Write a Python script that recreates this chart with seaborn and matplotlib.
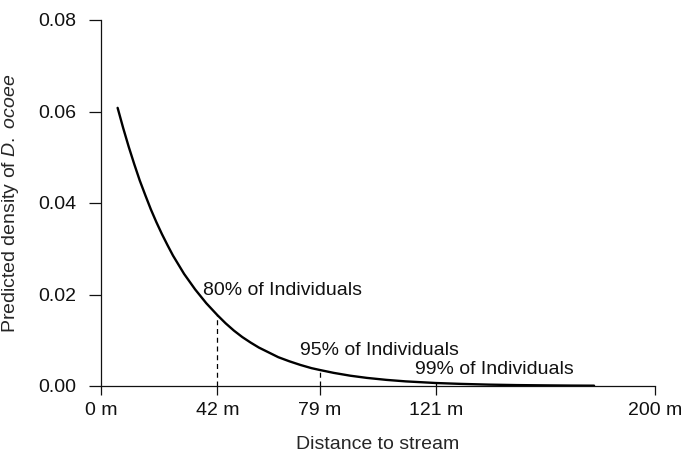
import matplotlib
matplotlib.use("Agg")
import matplotlib.pyplot as plt
import seaborn as sns
import pandas as pd

# Predicted salamander density along the distance-to-stream gradient
distance_m = [6, 8, 10, 12, 14, 16, 18, 20, 22, 24, 26, 28, 30, 32, 34, 36, 38, 40, 42,
              45, 48, 51, 54, 57, 60, 64, 68, 72, 76, 79,
              84, 90, 96, 103, 110, 121, 130, 140, 150, 160, 170, 178]
density = [0.0608, 0.0564, 0.0523, 0.0485, 0.0449, 0.0417, 0.0386, 0.0358, 0.0332, 0.0308,
           0.0285, 0.0265, 0.0245, 0.0228, 0.0211, 0.0196, 0.0181, 0.0168, 0.0155,
           0.0137, 0.0121, 0.0107, 0.0095, 0.0084, 0.0075, 0.0063, 0.0054, 0.0046, 0.0039, 0.0035,
           0.00287, 0.00225, 0.00177, 0.00134, 0.00101, 0.00065, 0.00046, 0.00030, 0.00020,
           0.00014, 0.00009, 0.00007]

# Distances enclosing a given share of individuals
cutoff_m = [42, 79, 121]
cutoff_density = [0.0155, 0.0035, 0.00065]
cutoff_labels = ["80% of Individuals", "95% of Individuals", "99% of Individuals"]
label_x = [37, 72, 113.5]
label_y = [0.0208, 0.0077, 0.0035]

x_ticks = [0, 42, 79, 121, 200]
x_tick_labels = ["0 m", "42 m", "79 m", "121 m", "200 m"]
y_ticks = [0.00, 0.02, 0.04, 0.06, 0.08]
y_tick_labels = ["0.00", "0.02", "0.04", "0.06", "0.08"]

sns.set_style("ticks")
plt.rcParams["font.family"] = ["Liberation Sans", "DejaVu Sans"]
plt.rcParams["mathtext.fontset"] = "custom"
plt.rcParams["mathtext.rm"] = "Liberation Sans"
plt.rcParams["mathtext.it"] = "Liberation Sans:italic"

FS = 14
W, H = 684, 454
fig = plt.figure(figsize=(W / 100, H / 100), dpi=100)
ax = fig.add_axes([101 / W, 1 - 386 / H, (655 - 101) / W, (386 - 20) / H])

df = pd.DataFrame({"distance": distance_m, "density": density})
sns.lineplot(data=df, x="distance", y="density", color="black", linewidth=1.7, ax=ax)

for xc, yc in zip(cutoff_m, cutoff_density):
    ax.plot([xc, xc], [0, yc], color="black", linestyle=(0, (4, 3)), linewidth=0.9)

for t, lx, ly in zip(cutoff_labels, label_x, label_y):
    ax.text(lx, ly, t, fontsize=FS, ha="left", va="center", color="#111111")

ax.set_xlim(0, 200)
ax.set_ylim(0, 0.08)
ax.set_xticks(x_ticks)
ax.set_xticklabels(x_tick_labels)
ax.set_yticks(y_ticks)
ax.set_yticklabels(y_tick_labels)
ax.tick_params(axis="x", length=6.5, width=0.9, pad=5, labelsize=FS, colors="#111111")
ax.tick_params(axis="y", length=9, width=0.9, pad=9, labelsize=FS, colors="#111111")

for side in ["top", "right"]:
    ax.spines[side].set_visible(False)
for side in ["left", "bottom"]:
    ax.spines[side].set_linewidth(0.9)
    ax.spines[side].set_color("#111111")

ax.set_xlabel("Distance to stream", fontsize=FS, labelpad=12)
ax.set_ylabel(r"Predicted density of $\mathit{D.}$ $\mathit{ocoee}$", fontsize=FS, labelpad=12)

fig.savefig("out.png", dpi=100)
